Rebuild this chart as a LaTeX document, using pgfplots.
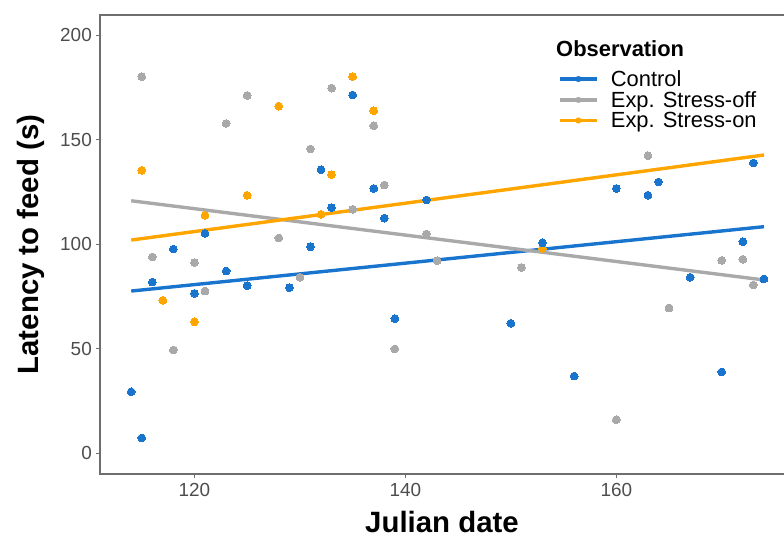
\documentclass[border=0pt]{standalone}
\usepackage{pgfplots}
\pgfplotsset{compat=1.18}
\usepackage{fontspec}
\setmainfont{Liberation Sans}
\definecolor{cblue}{RGB}{24,116,205}
\definecolor{cgray}{RGB}{169,169,169}
\definecolor{corange}{RGB}{255,165,0}
\definecolor{tickgray}{RGB}{77,77,77}
\definecolor{framegray}{RGB}{110,110,110}
\begin{document}
\begin{tikzpicture}
\begin{axis}[
  scale only axis, width=684bp, height=459bp,
  xmin=111.04, xmax=175.9, ymin=-10.05, ymax=209.6,
  axis line style={draw=none},
  clip=false,
  xtick={120,140,160}, ytick={0,50,100,150,200},
  xtick pos=bottom, ytick pos=left,
  tick align=outside, major tick length=4bp,
  tick style={color=framegray, line width=0.9bp},
  /pgf/number format/assume math mode=true,
  ticklabel style={font=\fontsize{19}{20}\selectfont, text=tickgray},
  xticklabel style={inner sep=0pt, yshift=-5bp},
  yticklabel style={inner sep=0pt, xshift=-4bp},
  xlabel={\textbf{Julian date}},
  ylabel={\textbf{Latency to feed (s)}},
  label style={font=\fontsize{29.5}{32}\selectfont},
  xlabel style={at={(axis description cs:0.5,-0.1285)}, anchor=base},
  ylabel style={at={(axis description cs:-0.0906,0.5)}, anchor=base},
  legend style={at={(rel axis cs:0.6695,0.882)}, anchor=north west, draw=none, fill=none,
    inner sep=0pt, row sep=1.5bp, font=\fontsize{22}{23}\selectfont,
    nodes={inner sep=1bp}},
  legend cell align=left,
  legend image code/.code={\path[draw=none] (0bp,0bp) -- (50bp,0bp); \draw[line width=3.5bp,#1] (0bp,0bp) -- (37bp,0bp); \fill[#1] (18.5bp,0bp) circle (2.8bp);},
]
\coordinate (llc) at (rel axis cs:0,0);
\coordinate (urc) at (rel axis cs:1,1);
\draw[framegray, line width=1.1bp] (rel axis cs:1,1) -- (rel axis cs:0,1) -- (rel axis cs:0,0) -- (rel axis cs:1,0);

% regression lines
\addplot[cblue, line width=3.4bp, forget plot] coordinates {(114,77.5) (174,108.3)};
\addplot[cgray, line width=3.4bp, forget plot] coordinates {(114,120.7) (174,82.8)};
\addplot[corange, line width=3.4bp, forget plot] coordinates {(114,101.9) (174,142.6)};

% Exp. Stress-on
\addplot[only marks, mark=*, mark size=3.9bp, mark options={fill=corange, draw=corange, line width=0pt}, forget plot] coordinates {
(115,135.3) (117,73.1) (120,62.8) (121,113.7) (125,123.3) (128,166) (132,114.2) (133,133.2) (135,180.1) (137,163.8) (153,97.8)
};
% Exp. Stress-off
\addplot[only marks, mark=*, mark size=3.9bp, mark options={fill=cgray, draw=cgray, line width=0pt}, forget plot] coordinates {
(115,180.1) (116,93.8) (118,49.3) (120,91.1) (121,77.5) (123,157.7) (125,171.1) (128,102.9) (130,84.1) (131,145.5) (133,174.6) (135,116.6) (137,156.6) (138,128.2) (139,49.8) (142,104.8) (143,92) (151,88.8) (160,15.9) (163,142.3) (165,69.4) (170,92.2) (172,92.7) (173,80.4)
};
% Control
\addplot[only marks, mark=*, mark size=3.9bp, mark options={fill=cblue, draw=cblue, line width=0pt}, forget plot] coordinates {
(114,29.3) (115,7.2) (116,81.8) (118,97.6) (120,76.4) (121,105.1) (123,87.1) (125,80.1) (129,79.1) (131,98.7) (132,135.6) (133,117.4) (135,171.3) (137,126.6) (138,112.4) (139,64.3) (142,121.1) (150,62.1) (153,100.6) (156,36.8) (160,126.6) (163,123.4) (164,129.7) (167,84.1) (170,38.8) (172,101.1) (173,138.8) (174,83.3)
};

\addlegendimage{cblue}
\addlegendentry{Control}
\addlegendimage{cgray}
\addlegendentry{Exp. Stress-off}
\addlegendimage{corange}
\addlegendentry{Exp. Stress-on}

\node[anchor=base west, inner sep=0pt, font=\fontsize{22}{23}\selectfont\bfseries] at (rel axis cs:0.6667,0.9085) {Observation};
\end{axis}
\pgfresetboundingbox
\path[use as bounding box] ([shift={(-100bp,-65bp)}]llc) rectangle ([shift={(0bp,15bp)}]urc);
\end{tikzpicture}
\end{document}
